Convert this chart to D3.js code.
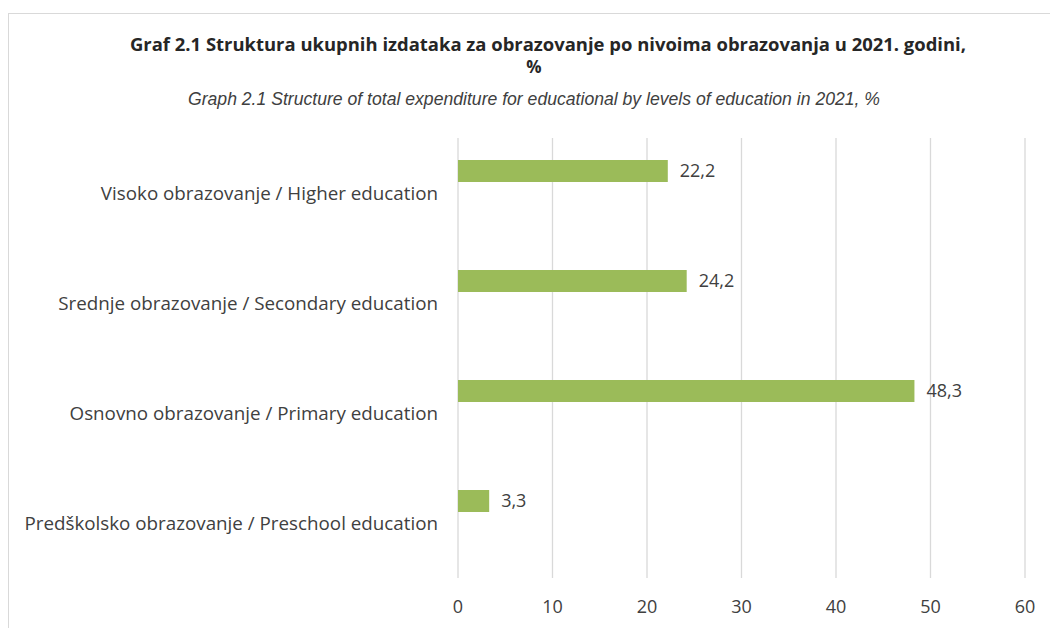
<!DOCTYPE html>
<html>
<head>
<meta charset="utf-8">
<script src="https://cdn.jsdelivr.net/npm/d3@7"></script>
<style>
  body { margin: 0; background: #fff; }
  svg { display: block; }
</style>
</head>
<body>
<div id="chart"></div>
<script>
const categories = [
    "Visoko obrazovanje / Higher education",
    "Srednje obrazovanje / Secondary education",
    "Osnovno obrazovanje / Primary education",
    "Predškolsko obrazovanje / Preschool education"
];
const values = [22.2, 24.2, 48.3, 3.3];
const ticks = [0, 10, 20, 30, 40, 50, 60];

const width = 1050;
const height = 628;
const margin = { top: 138, right: 25, bottom: 50, left: 458 };
const fmt = v => d3.format(".1f")(v).replace(".", ",");

const svg = d3.select("#chart").append("svg")
    .attr("width", width)
    .attr("height", height)
    .style("font-family", "'Open Sans', sans-serif");

// chart frame
svg.append("rect")
    .attr("x", 8.5).attr("y", 13.5)
    .attr("width", 1100).attr("height", 700)
    .attr("fill", "none")
    .attr("stroke", "#d9d9d9");

const x = d3.scaleLinear()
    .domain([0, 60])
    .range([margin.left, width - margin.right]);

const y = d3.scaleBand()
    .domain(categories)
    .range([margin.top, height - margin.bottom]);

// gridlines
svg.append("g")
    .selectAll("line")
    .data(ticks)
    .join("line")
    .attr("x1", d => x(d)).attr("x2", d => x(d))
    .attr("y1", margin.top).attr("y2", height - margin.bottom)
    .attr("stroke", "#d9d9d9")
    .attr("stroke-width", 1.3);

// x tick labels
svg.append("g")
    .selectAll("text")
    .data(ticks)
    .join("text")
    .attr("x", d => x(d))
    .attr("y", height - margin.bottom + 29)
    .attr("dy", "0.35em")
    .attr("text-anchor", "middle")
    .attr("fill", "#404040")
    .style("font-size", "18px")
    .text(d => d);

// bars
const bw = y.bandwidth();
svg.append("g")
    .selectAll("rect")
    .data(values)
    .join("rect")
    .attr("x", x(0))
    .attr("y", (d, i) => y(categories[i]) + bw * 0.2)
    .attr("width", d => x(d) - x(0))
    .attr("height", bw * 0.2)
    .attr("fill", "#9bbb59");

// value labels
svg.append("g")
    .selectAll("text")
    .data(values)
    .join("text")
    .attr("x", d => x(d) + 12)
    .attr("y", (d, i) => y(categories[i]) + bw * 0.3)
    .attr("dy", "0.35em")
    .attr("fill", "#404040")
    .style("font-size", "18px")
    .text(d => fmt(d));

// category labels
svg.append("g")
    .selectAll("text")
    .data(categories)
    .join("text")
    .attr("x", margin.left - 20)
    .attr("y", d => y(d) + bw / 2)
    .attr("dy", "0.35em")
    .attr("text-anchor", "end")
    .attr("fill", "#404040")
    .style("font-size", "18.8px")
    .text(d => d);

// titles
svg.append("text")
    .attr("x", 548).attr("y", 45)
    .attr("dy", "0.35em")
    .attr("text-anchor", "middle")
    .attr("fill", "#262626")
    .attr("textLength", 836)
    .attr("lengthAdjust", "spacingAndGlyphs")
    .style("font-size", "17px")
    .style("font-weight", "bold")
    .text("Graf 2.1 Struktura ukupnih izdataka za obrazovanje po nivoima obrazovanja u 2021. godini,");
svg.append("text")
    .attr("x", 534).attr("y", 67)
    .attr("dy", "0.35em")
    .attr("text-anchor", "middle")
    .attr("fill", "#262626")
    .style("font-size", "17px")
    .style("font-weight", "bold")
    .text("%");
svg.append("text")
    .attr("x", 534).attr("y", 98)
    .attr("dy", "0.35em")
    .attr("text-anchor", "middle")
    .attr("fill", "#404040")
    .attr("textLength", 692)
    .attr("lengthAdjust", "spacingAndGlyphs")
    .style("font-family", "'Liberation Sans', sans-serif")
    .style("font-size", "19px")
    .style("font-style", "italic")
    .text("Graph 2.1 Structure of total expenditure for educational by levels of education in 2021, %");
</script>
</body>
</html>
